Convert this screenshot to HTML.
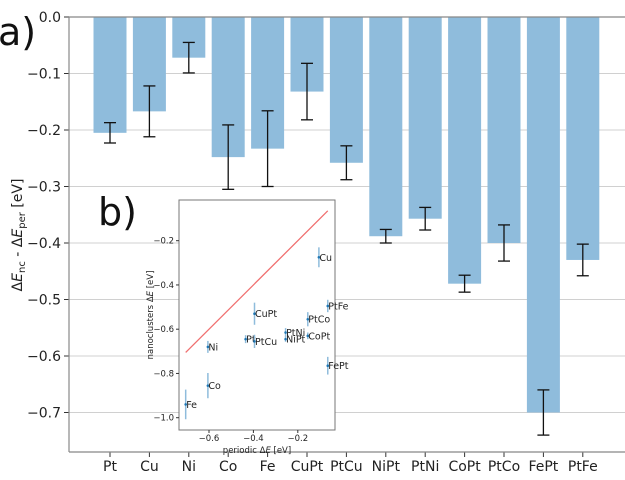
<!DOCTYPE html>
<html><head><meta charset="utf-8"><style>
body{margin:0;background:#fff;}
svg{font-family:"DejaVu Sans","Liberation Sans",sans-serif;}
</style></head><body>
<svg id="c" width="625" height="475"></svg>
<script>
const categories=["Pt","Cu","Ni","Co","Fe","CuPt","PtCu","NiPt","PtNi","CoPt","PtCo","FePt","PtFe"];
const diffValues=[-0.205,-0.167,-0.072,-0.248,-0.233,-0.132,-0.258,-0.388,-0.357,-0.472,-0.400,-0.700,-0.430];
const diffErrors=[0.018,0.045,0.027,0.057,0.067,0.05,0.03,0.012,0.02,0.015,0.032,0.04,0.028];
const yTicks=[0.0,-0.1,-0.2,-0.3,-0.4,-0.5,-0.6,-0.7];
const periodicX=[-0.435,-0.105,-0.605,-0.605,-0.705,-0.395,-0.395,-0.255,-0.255,-0.155,-0.155,-0.065,-0.065];
const clusterY=[-0.645,-0.275,-0.68,-0.855,-0.94,-0.53,-0.655,-0.645,-0.615,-0.63,-0.555,-0.765,-0.495];
const insetXTicks=[-0.6,-0.4,-0.2];
const insetYTicks=[-0.2,-0.4,-0.6,-0.8,-1.0];
const NS="http://www.w3.org/2000/svg";
const svg=document.getElementById('c');
function mk(t,a,txt,p){const e=document.createElementNS(NS,t);for(const k in a)e.setAttribute(k,a[k]);if(txt!=null)e.textContent=txt;(p||svg).appendChild(e);return e;}
const xS=i=>110+i*39.4, yS=v=>17-v*565;
yTicks.forEach(v=>{
 const g=mk('line',{x1:69,x2:625,y1:yS(v),y2:yS(v),stroke:'#d0d0d0','stroke-width':1});
 
 
 mk('line',{x1:64,x2:69,y1:yS(v),y2:yS(v),stroke:'#333'});
 const t=mk('text',{x:61,y:yS(v)+5,'text-anchor':'end','font-size':14,fill:'#222'},v.toFixed(1).replace('-','−'));
 
 
});
categories.forEach((c,i)=>{
 const v=diffValues[i],e=diffErrors[i],x=xS(i);
 const b=mk('rect',{x:x-16.5,y:yS(0),width:33,height:yS(v)-yS(0),fill:'#8fbcdc'});
 
 
 mk('line',{x1:x,x2:x,y1:yS(v+e),y2:yS(v-e),stroke:'#111','stroke-width':1.3});
 mk('line',{x1:x-6,x2:x+6,y1:yS(v+e),y2:yS(v+e),stroke:'#111','stroke-width':1.3});
 mk('line',{x1:x-6,x2:x+6,y1:yS(v-e),y2:yS(v-e),stroke:'#111','stroke-width':1.3});
 mk('line',{x1:x,x2:x,y1:452,y2:457,stroke:'#333'});
 const t=mk('text',{x:x,y:471,'text-anchor':'middle','font-size':14,fill:'#222'},c);
 
 
});
mk('line',{x1:69,x2:69,y1:17,y2:452,stroke:'#888','stroke-width':1.2});
mk('line',{x1:69,x2:625,y1:17,y2:17,stroke:'#888','stroke-width':1.2});
mk('line',{x1:69,x2:625,y1:452,y2:452,stroke:'#888','stroke-width':1.2});
const yl=mk('text',{transform:'translate(22,235) rotate(-90)','text-anchor':'middle','font-size':14,fill:'#222'});


yl.innerHTML='Δ<tspan font-style="italic">E</tspan><tspan font-size="10" dy="3">nc</tspan><tspan dy="-3"> - Δ</tspan><tspan font-style="italic">E</tspan><tspan font-size="10" dy="3">per</tspan><tspan dy="-3"> [eV]</tspan>';
const la=mk('text',{x:-2,y:45,'font-size':38,fill:'#111'},'a)');


const lb=mk('text',{x:98,y:225,'font-size':38,fill:'#111'},'b)');


const ix=v=>209+(v+0.6)*222, iy=v=>240.7-(v+0.2)*221.25;
const ib=mk('rect',{x:179,y:200,width:156,height:230,fill:'#fff',stroke:'#777','stroke-width':1});


insetXTicks.forEach(v=>{
 mk('line',{x1:ix(v),x2:ix(v),y1:430,y2:433,stroke:'#333'});
 mk('text',{x:ix(v),y:441,'text-anchor':'middle','font-size':8.5,fill:'#222'},v.toFixed(1).replace('-','−'));
});
insetYTicks.forEach(v=>{
 mk('line',{x1:176,x2:179,y1:iy(v),y2:iy(v),stroke:'#333'});
 mk('text',{x:174,y:iy(v)+3,'text-anchor':'end','font-size':8.5,fill:'#222'},v.toFixed(1).replace('-','−'));
});
const ixl=mk('text',{x:257,y:453,'text-anchor':'middle','font-size':8.5,fill:'#222'});
ixl.innerHTML='periodic Δ<tspan font-style="italic">E</tspan> [eV]';


const iyl=mk('text',{transform:'translate(153,315) rotate(-90)','text-anchor':'middle','font-size':8.5,fill:'#222'});
iyl.innerHTML='nanoclusters Δ<tspan font-style="italic">E</tspan> [eV]';


const ln=mk('line',{x1:ix(-0.705),y1:iy(-0.705),x2:ix(-0.065),y2:iy(-0.065),stroke:'#f07070','stroke-width':1.3});


categories.forEach((c,i)=>{
 const x=ix(periodicX[i]),y=clusterY[i],e=diffErrors[i];
 mk('line',{x1:x,x2:x,y1:iy(y+e),y2:iy(y-e),stroke:'#8fbcdc','stroke-width':1.5});
 const p=mk('circle',{cx:x,cy:iy(y),r:1.3,fill:'#1f77b4'});
 
 
 mk('text',{x:x+0.5,y:iy(y)+3.5,'font-size':9.5,fill:'#222'},c);
});
</script>
</body></html>
